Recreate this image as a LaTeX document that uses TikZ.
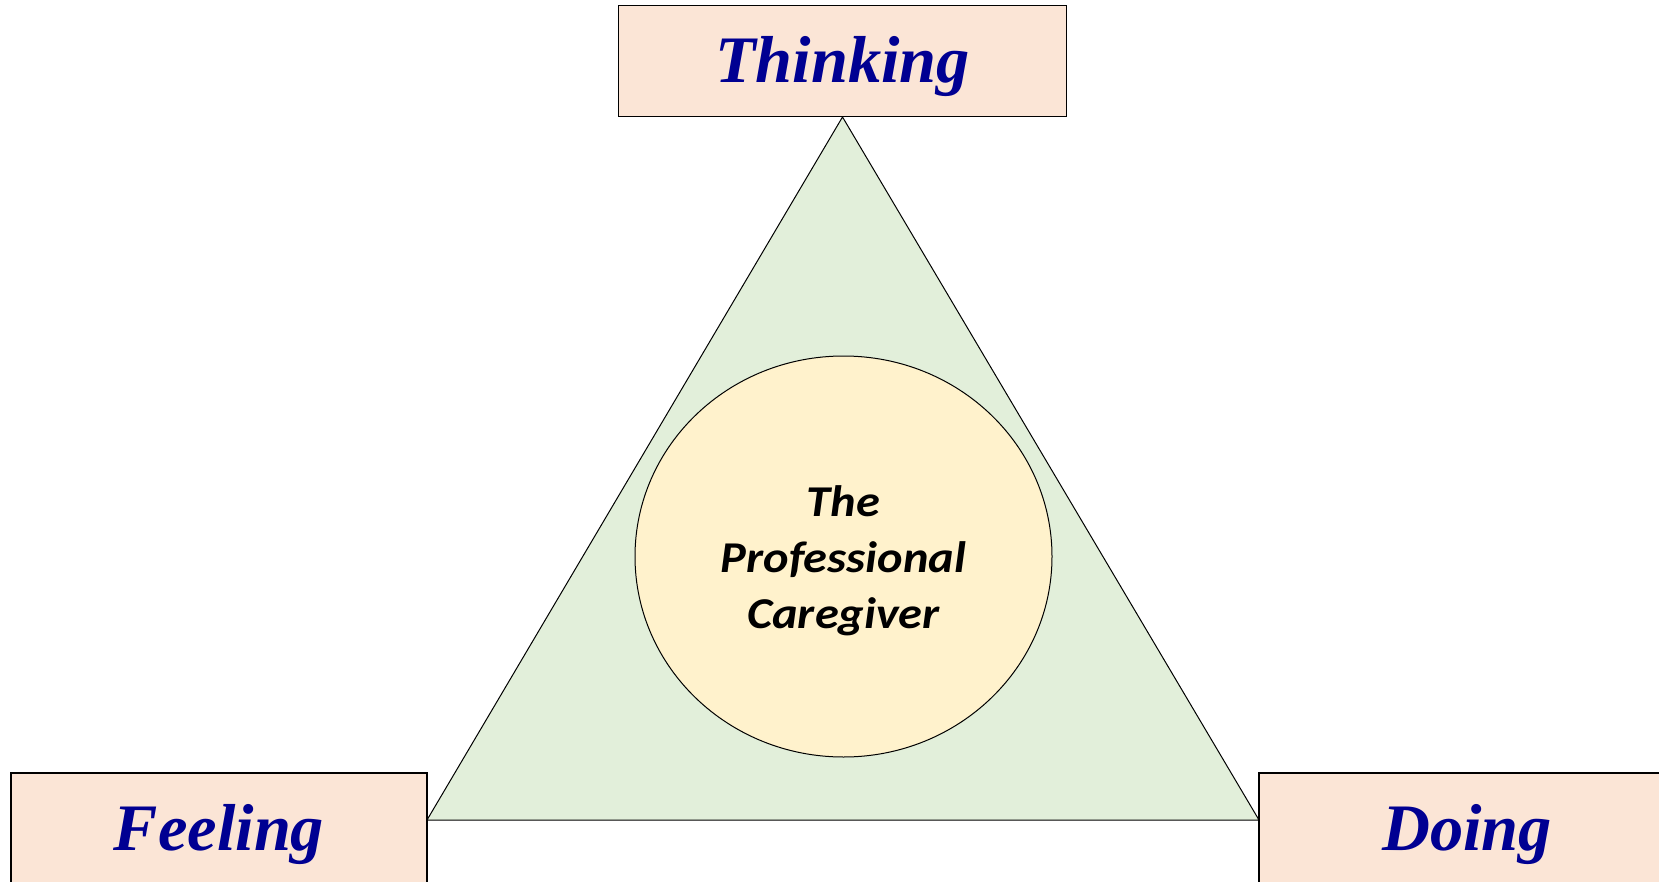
\documentclass[tikz,border=0pt]{standalone}
\usepackage{fontspec}
\setmainfont{Liberation Serif}
\newfontfamily\carlito[FakeStretch=1.1]{Carlito}
\usetikzlibrary{shapes.geometric}
\definecolor{boxfill}{RGB}{251,229,214}
\definecolor{trifill}{RGB}{226,239,218}
\definecolor{ellfill}{RGB}{255,242,204}
\definecolor{labblue}{RGB}{0,0,146}
\tikzset{
  labelbox/.style={draw=black, line width=0.8pt, fill=boxfill, minimum height=55.5pt,
    inner sep=0pt, text height=21.5pt, text depth=0pt, text=labblue,
    font=\fontsize{33.2}{38}\selectfont\bfseries\itshape},
  centre/.style={draw=black, line width=0.5pt, fill=ellfill, ellipse, inner sep=0pt,
    minimum width=208.5pt, minimum height=200.5pt},
  centretext/.style={align=center, inner sep=0pt,
    font=\carlito\bfseries\itshape\fontsize{22}{28}\selectfont}
}
\begin{document}
\begin{tikzpicture}[x=0.5pt,y=-0.5pt]
\clip (0,0) rectangle (1659,882);
\useasboundingbox (0,0) rectangle (1659,882);
\coordinate (apex) at (842.5,117);
\coordinate (left) at (427,820);
\coordinate (right) at (1259,820);
\draw[fill=trifill, line width=0.5pt, line join=miter] (apex) -- (left) -- (right) -- cycle;
\node[centre] (circ) at (843.5,556.5) {};
\node[centretext] (ctext) at (843.5,561) {The\\Professional\\Caregiver};
\node[labelbox, minimum width=224pt] (think) at (842.5,61) {Thinking};
\node[labelbox, minimum width=208pt] (feel) at (219,828.5) {Feeling};
\node[labelbox, minimum width=208pt] (doing) at (1467,828.5) {Doing};
\end{tikzpicture}
\end{document}
